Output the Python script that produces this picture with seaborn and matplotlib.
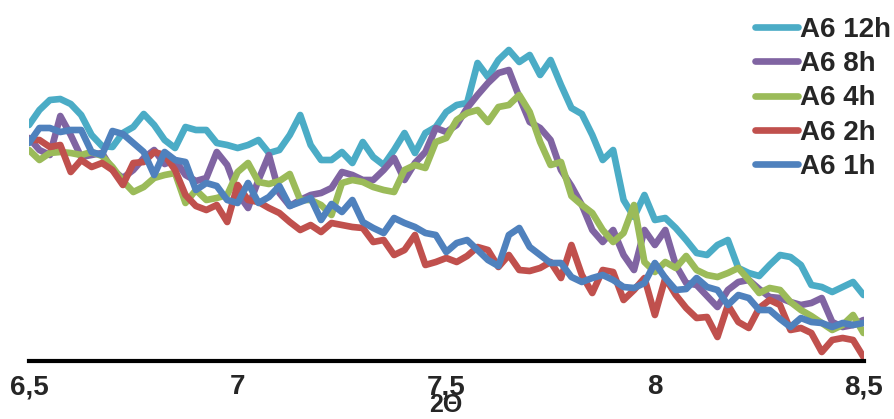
import numpy as np
import pandas as pd
import matplotlib
matplotlib.use("Agg")
import matplotlib.pyplot as plt
import seaborn as sns

# 2-theta sampling grid (degrees)
two_theta = np.round(np.linspace(6.5, 8.5, 81), 4)

series_names = ["A6 12h", "A6 8h", "A6 4h", "A6 2h", "A6 1h"]
colors = ["#4BACC6", "#8064A2", "#9BBB59", "#C0504D", "#4F81BD"]

a6_12h = [235, 250, 260, 261, 256, 245, 225, 214, 213, 227,
          233, 246, 235, 220, 212, 233, 230, 230, 217, 215,
          212, 215, 220, 207, 210, 225, 245, 215, 200, 200,
          208, 197, 218, 203, 195, 210, 227, 207, 227, 233,
          248, 255, 257, 297, 283, 300, 310, 298, 305, 285,
          300, 275, 252, 246, 225, 200, 210, 160, 143, 165,
          140, 142, 132, 120, 107, 105, 115, 120, 92, 87,
          84, 95, 105, 103, 95, 75, 73, 68, 73, 78,
          65]
a6_8h = [222, 210, 205, 244, 225, 203, 205, 207, 190, 182,
         190, 202, 210, 196, 200, 185, 179, 182, 208, 195,
         167, 152, 180, 205, 167, 154, 160, 165, 167, 172,
         188, 185, 180, 180, 190, 202, 180, 197, 208, 232,
         228, 235, 252, 265, 277, 287, 290, 263, 238, 232,
         220, 190, 174, 155, 130, 118, 130, 105, 90, 130,
         115, 130, 95, 77, 75, 64, 53, 70, 78, 80,
         71, 63, 62, 58, 55, 57, 62, 38, 33, 35,
         40]
a6_4h = [210, 200, 207, 208, 207, 205, 208, 204, 193, 179,
         168, 173, 182, 185, 187, 157, 170, 160, 162, 165,
         188, 197, 178, 176, 179, 186, 160, 160, 155, 145,
         177, 180, 178, 173, 170, 168, 190, 195, 192, 218,
         222, 240, 247, 250, 238, 253, 255, 265, 248, 218,
         195, 198, 164, 155, 147, 130, 118, 127, 155, 98,
         88, 98, 92, 104, 90, 85, 83, 87, 92, 80,
         67, 72, 70, 58, 50, 44, 37, 30, 35, 45,
         27]
a6_2h = [220, 220, 213, 215, 188, 200, 193, 197, 190, 175,
         197, 198, 208, 205, 190, 165, 154, 150, 155, 138,
         175, 160, 158, 152, 147, 138, 130, 135, 128, 137,
         135, 133, 132, 118, 120, 105, 110, 125, 95, 98,
         102, 98, 104, 113, 110, 93, 105, 90, 89, 92,
         98, 82, 115, 85, 67, 90, 88, 60, 70, 82,
         45, 82, 65, 52, 42, 43, 23, 55, 38, 32,
         52, 60, 55, 30, 32, 27, 8, 20, 22, 20,
         3]
a6_1h = [217, 232, 232, 228, 230, 230, 208, 205, 229, 226,
         217, 208, 185, 208, 200, 198, 170, 177, 174, 160,
         157, 177, 157, 163, 174, 154, 158, 162, 140, 156,
         148, 160, 138, 132, 127, 142, 137, 133, 127, 125,
         108, 117, 120, 110, 100, 94, 125, 132, 113, 105,
         97, 97, 83, 78, 82, 85, 80, 73, 72, 77,
         97, 82, 70, 71, 82, 73, 70, 55, 65, 62,
         50, 50, 41, 33, 42, 38, 37, 33, 37, 35,
         37]

tick_values = [6.5, 7, 7.5, 8, 8.5]
tick_labels = ["6,5", "7", "7,5", "8", "8,5"]

values = [a6_12h, a6_8h, a6_4h, a6_2h, a6_1h]
df = pd.concat(
    [pd.DataFrame({"2θ": two_theta, "I": v, "series": n}) for n, v in zip(series_names, values)],
    ignore_index=True,
)

sns.set_theme(style="white")
plt.rcParams["font.family"] = ["Liberation Sans", "DejaVu Sans"]

fig = plt.figure(figsize=(8.95, 4.19), dpi=100)
ax = fig.add_axes([29 / 895, 58 / 419, (863.5 - 29) / 895, 321 / 419])

sns.lineplot(data=df, x="2θ", y="I", hue="series", hue_order=series_names,
             palette=dict(zip(series_names, colors)), estimator=None,
             linewidth=4.8, ax=ax, legend=True,
             solid_joinstyle="round", solid_capstyle="round")

ax.set_xlim(6.5, 8.5)
ax.set_ylim(-1, 320)
ax.set_yticks([])
ax.set_ylabel("")
for s in ["top", "right", "left"]:
    ax.spines[s].set_visible(False)
ax.spines["bottom"].set_color("black")
ax.spines["bottom"].set_linewidth(3)
ax.set_xticks(tick_values)
ax.set_xticklabels(tick_labels, fontsize=20, fontweight="bold")
ax.tick_params(axis="x", direction="out", length=4.5, width=3, color="black", pad=5)
ax.set_xlabel("2Θ", fontsize=18, fontweight="bold", labelpad=-5)

old = ax.get_legend()
handles = old.legend_handles
labels = [t.get_text() for t in old.get_texts()]
old.remove()
for h in handles:
    h.set_linewidth(4.8)
    h.set_solid_capstyle("round")
leg = fig.legend(handles, labels, loc="upper right", bbox_to_anchor=(1.014, 1.0),
                 frameon=False, prop={"weight": "bold", "size": 20},
                 handlelength=1.55, handletextpad=0.05, labelspacing=0.3,
                 borderaxespad=0.2)

fig.savefig("out.png", dpi=100)
